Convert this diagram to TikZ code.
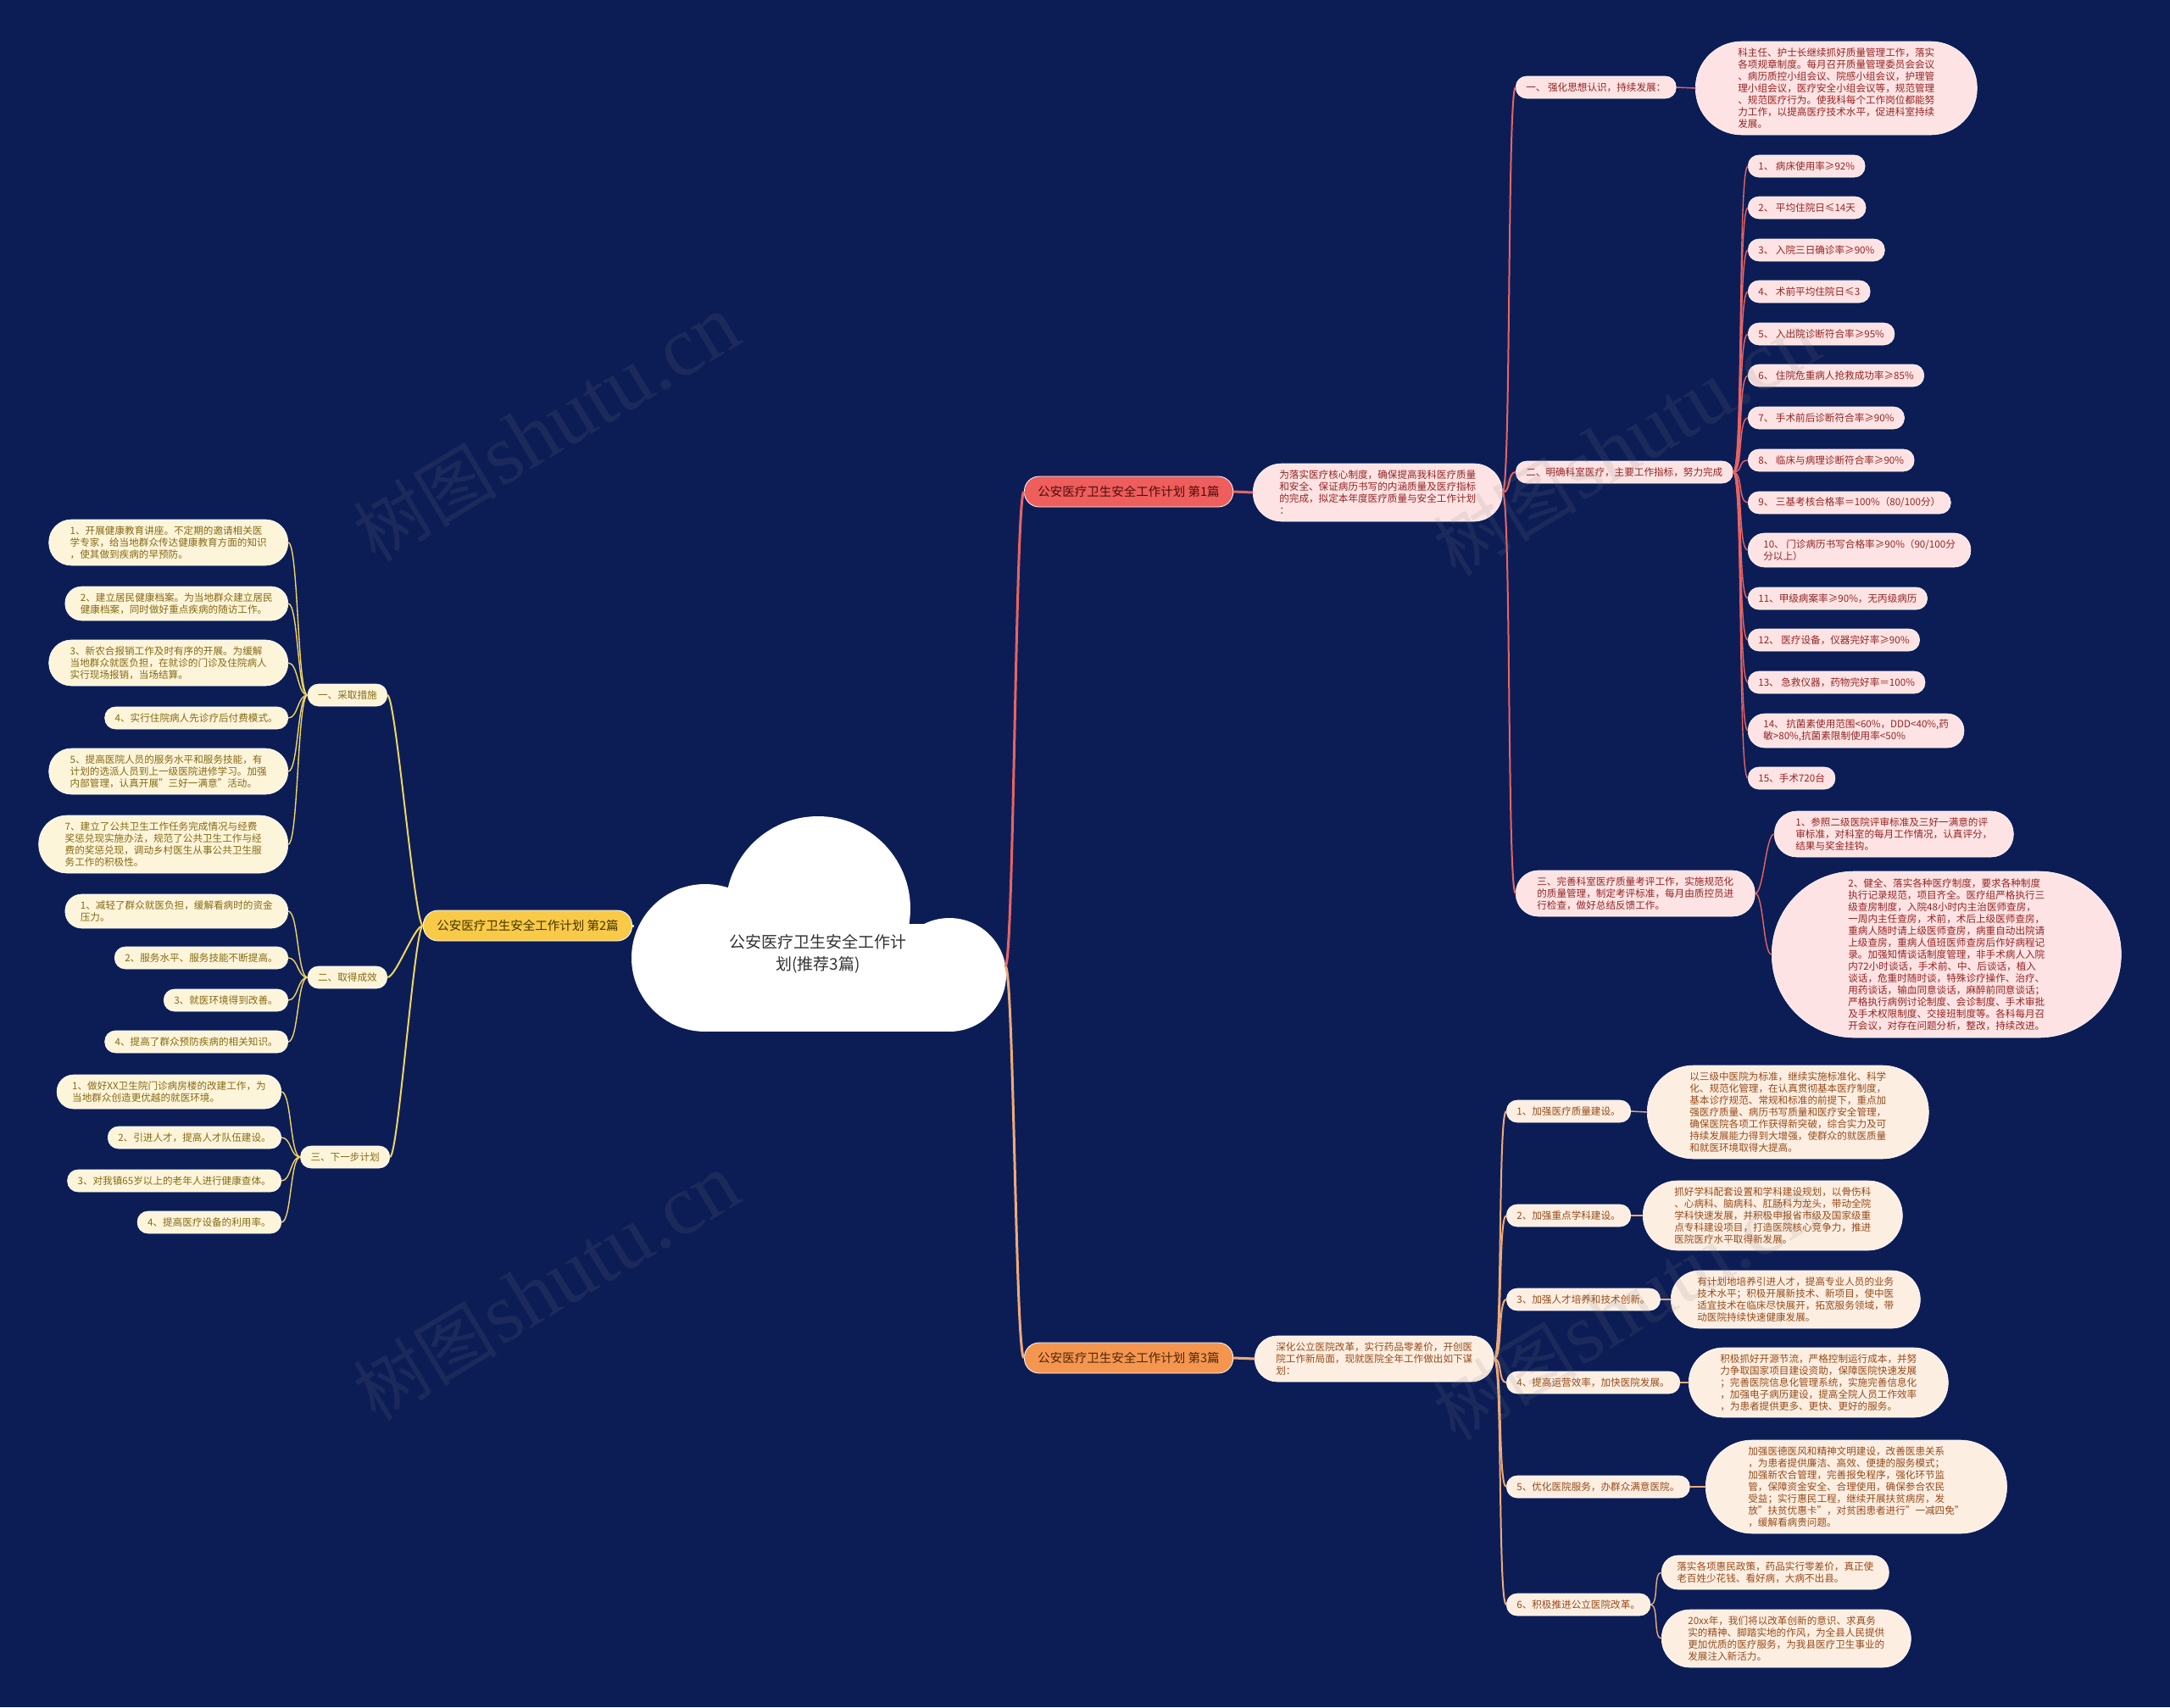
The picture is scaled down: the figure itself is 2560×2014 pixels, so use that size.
\documentclass[tikz,border=0pt]{standalone}
\usepackage{fontspec}
\setmainfont{Noto Sans CJK SC}
\newfontfamily\latinserif{Liberation Serif}
\definecolor{navybg}{RGB}{12,29,86}
\definecolor{rootink}{RGB}{51,51,51}
\definecolor{redhead}{RGB}{238,94,92}
\definecolor{redheadink}{RGB}{80,12,12}
\definecolor{redfill}{RGB}{253,227,227}
\definecolor{redink}{RGB}{150,35,35}
\definecolor{redline}{RGB}{232,100,98}
\definecolor{orangehead}{RGB}{245,150,80}
\definecolor{orangeheadink}{RGB}{80,38,5}
\definecolor{orangefill}{RGB}{253,238,226}
\definecolor{orangeink}{RGB}{150,75,25}
\definecolor{orangeline}{RGB}{238,170,120}
\definecolor{yellowhead}{RGB}{248,202,72}
\definecolor{yellowheadink}{RGB}{70,52,0}
\definecolor{yellowfill}{RGB}{253,245,218}
\definecolor{yellowink}{RGB}{135,105,20}
\definecolor{yellowline}{RGB}{242,212,100}

\begin{document}
\begin{tikzpicture}[x=1pt,y=-1pt,
  pill/.style={rectangle, draw=white, line width=0.6pt, inner ysep=0pt, align=left, font=\fontsize{11.6}{14}\selectfont},
  l1/.style={minimum height=26pt, rounded corners=12.5pt, inner xsep=12pt},
  l2/.style={minimum height=40pt, rounded corners=19.5pt, inner xsep=18pt},
  l3/.style={minimum height=54pt, rounded corners=26.5pt, inner xsep=25pt},
  l4/.style={minimum height=68pt, rounded corners=33.5pt, inner xsep=31pt},
  l5/.style={minimum height=82pt, rounded corners=40.5pt, inner xsep=37pt},
  l7/.style={minimum height=110pt, rounded corners=54.5pt, inner xsep=50pt},
  l13/.style={minimum height=196pt, rounded corners=97.5pt, inner xsep=90pt},
  redbox/.style={pill, fill=redfill, text=redink},
  orangebox/.style={pill, fill=orangefill, text=orangeink},
  yellowbox/.style={pill, fill=yellowfill, text=yellowink},
  headbox/.style={rectangle, draw=white, line width=0.8pt, minimum height=36pt, rounded corners=17.5pt, inner xsep=16pt, inner ysep=0pt, font=\fontsize{14.5}{16}\selectfont},
  redwire/.style={draw=redline, line width=#1}, redwire/.default=1.4pt,
  orangewire/.style={draw=orangeline, line width=#1}, orangewire/.default=1.4pt,
  yellowwire/.style={draw=yellowline, line width=#1}, yellowwire/.default=1.4pt,
  wmark/.style={text=gray, opacity=0.14, rotate=31}]

\fill[navybg] (0,0) rectangle (2560,2014);
\useasboundingbox (0,0) rectangle (2560,2014);

\fill[white] (965,1072) circle[radius=109pt];
\fill[white] (832,1130) circle[radius=87pt];
\fill[white] (1120,1150) circle[radius=67pt];
\fill[white] (832,1090) rectangle (1120,1217);
\node[align=center, text=rootink, font=\fontsize{19}{26}\selectfont] (root) at (965,1125) {公安医疗卫生安全工作计\\划(推荐3篇)};
\coordinate (rootR) at (1186,1140);
\coordinate (rootL) at (748,1092);

\node[headbox, fill=redhead, text=redheadink, anchor=west] (p1) at (1208,580) {公安医疗卫生安全工作计划 第1篇};
\node[headbox, fill=yellowhead, text=yellowheadink, anchor=east] (p2) at (746,1092) {公安医疗卫生安全工作计划 第2篇};
\node[headbox, fill=orangehead, text=orangeheadink, anchor=west] (p3) at (1208,1602) {公安医疗卫生安全工作计划 第3篇};

\node[redbox, l4, anchor=west] (p1i) at (1478,581) {为落实医疗核心制度，确保提高我科医疗质量\\和安全、保证病历书写的内涵质量及医疗指标\\的完成，拟定本年度医疗质量与安全工作计划\\：};
\node[redbox, l1, anchor=west] (p1a) at (1788,103) {一、 强化思想认识，持续发展：};
\node[redbox, l7, anchor=west] (p1a1) at (2000,104) {科主任、护士长继续抓好质量管理工作，落实\\各项规章制度。每月召开质量管理委员会会议\\、病历质控小组会议、院感小组会议，护理管\\理小组会议，医疗安全小组会议等，规范管理\\、规范医疗行为。使我科每个工作岗位都能努\\力工作，以提高医疗技术水平，促进科室持续\\发展。};
\node[redbox, l1, anchor=west] (p1b) at (1788,557) {二、明确科室医疗，主要工作指标，努力完成};
\node[redbox, l1, anchor=west] (p1b1) at (2062,196) {1、 病床使用率≥92\%};
\node[redbox, l1, anchor=west] (p1b2) at (2062,245) {2、 平均住院日≤14天};
\node[redbox, l1, anchor=west] (p1b3) at (2062,295) {3、 入院三日确诊率≥90\%};
\node[redbox, l1, anchor=west] (p1b4) at (2062,344) {4、 术前平均住院日≤3};
\node[redbox, l1, anchor=west] (p1b5) at (2062,394) {5、 入出院诊断符合率≥95\%};
\node[redbox, l1, anchor=west] (p1b6) at (2062,443) {6、 住院危重病人抢救成功率≥85\%};
\node[redbox, l1, anchor=west] (p1b7) at (2062,493) {7、 手术前后诊断符合率≥90\%};
\node[redbox, l1, anchor=west] (p1b8) at (2062,543) {8、 临床与病理诊断符合率≥90\%};
\node[redbox, l1, anchor=west] (p1b9) at (2062,593) {9、 三基考核合格率＝100\%（80/100分）};
\node[redbox, l2, anchor=west] (p1b10) at (2062,649) {10、 门诊病历书写合格率≥90\%（90/100分\\分以上）};
\node[redbox, l1, anchor=west] (p1b11) at (2062,706) {11、甲级病案率≥90\%，无丙级病历};
\node[redbox, l1, anchor=west] (p1b12) at (2062,755) {12、 医疗设备，仪器完好率≥90\%};
\node[redbox, l1, anchor=west] (p1b13) at (2062,805) {13、 急救仪器，药物完好率＝100\%};
\node[redbox, l2, anchor=west] (p1b14) at (2062,862) {14、 抗菌素使用范围<60\%，DDD<40\%,药\\敏>80\%,抗菌素限制使用率<50\%};
\node[redbox, l1, anchor=west] (p1b15) at (2062,918) {15、手术720台};
\node[redbox, l3, anchor=west] (p1c) at (1788,1054) {三、完善科室医疗质量考评工作，实施规范化\\的质量管理，制定考评标准，每月由质控员进\\行检查，做好总结反馈工作。};
\node[redbox, l3, anchor=west] (p1c1) at (2093,984) {1、参照二级医院评审标准及三好一满意的评\\审标准，对科室的每月工作情况，认真评分，\\结果与奖金挂钩。};
\node[redbox, l13, anchor=west] (p1c2) at (2090,1126) {2、健全、落实各种医疗制度，要求各种制度\\执行记录规范，项目齐全。医疗组严格执行三\\级查房制度，入院48小时内主治医师查房，\\一周内主任查房，术前，术后上级医师查房，\\重病人随时请上级医师查房，病重自动出院请\\上级查房，重病人值班医师查房后作好病程记\\录。加强知情谈话制度管理，非手术病人入院\\内72小时谈话，手术前、中、后谈话，植入\\谈话，危重时随时谈，特殊诊疗操作、治疗、\\用药谈话，输血同意谈话，麻醉前同意谈话；\\严格执行病例讨论制度、会诊制度、手术审批\\及手术权限制度、交接班制度等。各科每月召\\开会议，对存在问题分析，整改，持续改进。};

\node[yellowbox, l1, anchor=east] (p2a) at (457,820) {一、采取措施};
\node[yellowbox, l3, anchor=east] (p2a1) at (340,640) {1、开展健康教育讲座。不定期的邀请相关医\\学专家，给当地群众传达健康教育方面的知识\\，使其做到疾病的早预防。};
\node[yellowbox, l2, anchor=east] (p2a2) at (340,712) {2、建立居民健康档案。为当地群众建立居民\\健康档案，同时做好重点疾病的随访工作。};
\node[yellowbox, l3, anchor=east] (p2a3) at (340,782) {3、新农合报销工作及时有序的开展。为缓解\\当地群众就医负担，在就诊的门诊及住院病人\\实行现场报销，当场结算。};
\node[yellowbox, l1, anchor=east] (p2a4) at (340,847) {4、实行住院病人先诊疗后付费模式。};
\node[yellowbox, l3, anchor=east] (p2a5) at (340,910) {5、提高医院人员的服务水平和服务技能，有\\计划的选派人员到上一级医院进修学习。加强\\内部管理，认真开展"三好一满意"活动。};
\node[yellowbox, l4, anchor=east] (p2a6) at (340,996) {7、建立了公共卫生工作任务完成情况与经费\\奖惩兑现实施办法，规范了公共卫生工作与经\\费的奖惩兑现，调动乡村医生从事公共卫生服\\务工作的积极性。};
\node[yellowbox, l1, anchor=east] (p2b) at (457,1153) {二、取得成效};
\node[yellowbox, l2, anchor=east] (p2b1) at (340,1075) {1、减轻了群众就医负担，缓解看病时的资金\\压力。};
\node[yellowbox, l1, anchor=east] (p2b2) at (340,1130) {2、服务水平、服务技能不断提高。};
\node[yellowbox, l1, anchor=east] (p2b3) at (340,1180) {3、就医环境得到改善。};
\node[yellowbox, l1, anchor=east] (p2b4) at (340,1229) {4、提高了群众预防疾病的相关知识。};
\node[yellowbox, l1, anchor=east] (p2c) at (460,1365) {三、下一步计划};
\node[yellowbox, l2, anchor=east] (p2c1) at (332,1288) {1、做好XX卫生院门诊病房楼的改建工作，为\\当地群众创造更优越的就医环境。};
\node[yellowbox, l1, anchor=east] (p2c2) at (332,1342) {2、引进人才，提高人才队伍建设。};
\node[yellowbox, l1, anchor=east] (p2c3) at (332,1393) {3、对我镇65岁以上的老年人进行健康查体。};
\node[yellowbox, l1, anchor=east] (p2c4) at (332,1442) {4、提高医疗设备的利用率。};

\node[orangebox, l3, anchor=west] (p3i) at (1480,1603) {深化公立医院改革，实行药品零差价，开创医\\院工作新局面，现就医院全年工作做出如下谋\\划：};
\node[orangebox, l1, anchor=west] (p3a) at (1777,1311) {1、加强医疗质量建设。};
\node[orangebox, l7, anchor=west] (p3a1) at (1943,1312) {以三级中医院为标准，继续实施标准化、科学\\化、规范化管理，在认真贯彻基本医疗制度，\\基本诊疗规范、常规和标准的前提下，重点加\\强医疗质量、病历书写质量和医疗安全管理，\\确保医院各项工作获得新突破，综合实力及可\\持续发展能力得到大增强，使群众的就医质量\\和就医环境取得大提高。};
\node[orangebox, l1, anchor=west] (p3b) at (1777,1434) {2、加强重点学科建设。};
\node[orangebox, l5, anchor=west] (p3b1) at (1938,1434) {抓好学科配套设置和学科建设规划，以骨伤科\\、心病科、脑病科、肛肠科为龙头，带动全院\\学科快速发展，并积极申报省市级及国家级重\\点专科建设项目，打造医院核心竞争力，推进\\医院医疗水平取得新发展。};
\node[orangebox, l1, anchor=west] (p3c) at (1777,1533) {3、加强人才培养和技术创新。};
\node[orangebox, l4, anchor=west] (p3c1) at (1971,1533) {有计划地培养引进人才，提高专业人员的业务\\技术水平；积极开展新技术、新项目，使中医\\适宜技术在临床尽快展开，拓宽服务领域，带\\动医院持续快速健康发展。};
\node[orangebox, l1, anchor=west] (p3d) at (1777,1631) {4、提高运营效率，加快医院发展。};
\node[orangebox, l5, anchor=west] (p3d1) at (1992,1631) {积极抓好开源节流，严格控制运行成本，并努\\力争取国家项目建设资助，保障医院快速发展\\；完善医院信息化管理系统，实施完善信息化\\，加强电子病历建设，提高全院人员工作效率\\，为患者提供更多、更快、更好的服务。};
\node[orangebox, l1, anchor=west] (p3e) at (1777,1754) {5、优化医院服务，办群众满意医院。};
\node[orangebox, l7, anchor=west] (p3e1) at (2012,1754) {加强医德医风和精神文明建设，改善医患关系\\，为患者提供廉洁、高效、便捷的服务模式；\\加强新农合管理，完善报免程序，强化环节监\\管，保障资金安全、合理使用，确保参合农民\\受益；实行惠民工程，继续开展扶贫病房，发\\放"扶贫优惠卡"，对贫困患者进行"一减四免"\\，缓解看病贵问题。};
\node[orangebox, l1, anchor=west] (p3f) at (1777,1893) {6、积极推进公立医院改革。};
\node[orangebox, l2, anchor=west] (p3f1) at (1960,1855) {落实各项惠民政策，药品实行零差价，真正使\\老百姓少花钱、看好病，大病不出县。};
\node[orangebox, l4, anchor=west] (p3f2) at (1960,1933) {20xx年，我们将以改革创新的意识、求真务\\实的精神、脚踏实地的作风，为全县人民提供\\更加优质的医疗服务，为我县医疗卫生事业的\\发展注入新活力。};

\draw[redwire=3pt] (rootR) .. controls +(10,0) and +(-10,0) .. (p1.west);
\draw[orangewire=3pt] (rootR) .. controls +(10,0) and +(-10,0) .. (p3.west);
\draw[yellowwire=3pt] (rootL) -- (p2.east);

\draw[redwire=3pt] (p1.east) -- (p1i.west);
\draw[redwire=2pt] (p1i.east) .. controls +(10,0) and +(-10,0) .. (p1a.west);
\draw[redwire=2pt] (p1i.east) .. controls +(10,0) and +(-10,0) .. (p1b.west);
\draw[redwire=2pt] (p1i.east) .. controls +(10,0) and +(-10,0) .. (p1c.west);
\draw[redwire] (p1a.east) -- (p1a1.west);
\draw[redwire] (p1b.east) .. controls +(12,0) and +(-12,0) .. (p1b1.west);
\draw[redwire] (p1b.east) .. controls +(12,0) and +(-12,0) .. (p1b2.west);
\draw[redwire] (p1b.east) .. controls +(12,0) and +(-12,0) .. (p1b3.west);
\draw[redwire] (p1b.east) .. controls +(12,0) and +(-12,0) .. (p1b4.west);
\draw[redwire] (p1b.east) .. controls +(12,0) and +(-12,0) .. (p1b5.west);
\draw[redwire] (p1b.east) .. controls +(12,0) and +(-12,0) .. (p1b6.west);
\draw[redwire] (p1b.east) .. controls +(12,0) and +(-12,0) .. (p1b7.west);
\draw[redwire] (p1b.east) .. controls +(12,0) and +(-12,0) .. (p1b8.west);
\draw[redwire] (p1b.east) .. controls +(12,0) and +(-12,0) .. (p1b9.west);
\draw[redwire] (p1b.east) .. controls +(12,0) and +(-12,0) .. (p1b10.west);
\draw[redwire] (p1b.east) .. controls +(12,0) and +(-12,0) .. (p1b11.west);
\draw[redwire] (p1b.east) .. controls +(12,0) and +(-12,0) .. (p1b12.west);
\draw[redwire] (p1b.east) .. controls +(12,0) and +(-12,0) .. (p1b13.west);
\draw[redwire] (p1b.east) .. controls +(12,0) and +(-12,0) .. (p1b14.west);
\draw[redwire] (p1b.east) .. controls +(12,0) and +(-12,0) .. (p1b15.west);
\draw[redwire] (p1c.east) .. controls +(10,0) and +(-10,0) .. (p1c1.west);
\draw[redwire] (p1c.east) .. controls +(10,0) and +(-10,0) .. (p1c2.west);

\draw[yellowwire=2pt] (p2.west) .. controls +(-10,0) and +(10,0) .. (p2a.east);
\draw[yellowwire=2pt] (p2.west) .. controls +(-10,0) and +(10,0) .. (p2b.east);
\draw[yellowwire=2pt] (p2.west) .. controls +(-10,0) and +(10,0) .. (p2c.east);
\draw[yellowwire] (p2a.west) .. controls +(-12,0) and +(12,0) .. (p2a1.east);
\draw[yellowwire] (p2a.west) .. controls +(-12,0) and +(12,0) .. (p2a2.east);
\draw[yellowwire] (p2a.west) .. controls +(-12,0) and +(12,0) .. (p2a3.east);
\draw[yellowwire] (p2a.west) .. controls +(-12,0) and +(12,0) .. (p2a4.east);
\draw[yellowwire] (p2a.west) .. controls +(-12,0) and +(12,0) .. (p2a5.east);
\draw[yellowwire] (p2a.west) .. controls +(-12,0) and +(12,0) .. (p2a6.east);
\draw[yellowwire] (p2b.west) .. controls +(-12,0) and +(12,0) .. (p2b1.east);
\draw[yellowwire] (p2b.west) .. controls +(-12,0) and +(12,0) .. (p2b2.east);
\draw[yellowwire] (p2b.west) .. controls +(-12,0) and +(12,0) .. (p2b3.east);
\draw[yellowwire] (p2b.west) .. controls +(-12,0) and +(12,0) .. (p2b4.east);
\draw[yellowwire] (p2c.west) .. controls +(-12,0) and +(12,0) .. (p2c1.east);
\draw[yellowwire] (p2c.west) .. controls +(-12,0) and +(12,0) .. (p2c2.east);
\draw[yellowwire] (p2c.west) .. controls +(-12,0) and +(12,0) .. (p2c3.east);
\draw[yellowwire] (p2c.west) .. controls +(-12,0) and +(12,0) .. (p2c4.east);

\draw[orangewire=3pt] (p3.east) -- (p3i.west);
\draw[orangewire=2pt] (p3i.east) .. controls +(10,0) and +(-10,0) .. (p3a.west);
\draw[orangewire=2pt] (p3i.east) .. controls +(10,0) and +(-10,0) .. (p3b.west);
\draw[orangewire=2pt] (p3i.east) .. controls +(10,0) and +(-10,0) .. (p3c.west);
\draw[orangewire=2pt] (p3i.east) .. controls +(10,0) and +(-10,0) .. (p3d.west);
\draw[orangewire=2pt] (p3i.east) .. controls +(10,0) and +(-10,0) .. (p3e.west);
\draw[orangewire=2pt] (p3i.east) .. controls +(10,0) and +(-10,0) .. (p3f.west);
\draw[orangewire] (p3a.east) -- (p3a1.west);
\draw[orangewire] (p3b.east) -- (p3b1.west);
\draw[orangewire] (p3c.east) -- (p3c1.west);
\draw[orangewire] (p3d.east) -- (p3d1.west);
\draw[orangewire] (p3e.east) -- (p3e1.west);
\draw[orangewire] (p3f.east) .. controls +(10,0) and +(-10,0) .. (p3f1.west);
\draw[orangewire] (p3f.east) .. controls +(10,0) and +(-10,0) .. (p3f2.west);

\node[wmark] (wm1) at (645,506) {{\fontsize{85}{85}\selectfont 树图} {\latinserif\fontsize{100}{100}\selectfont shutu.cn}};
\node[wmark] (wm2) at (645,1519) {{\fontsize{85}{85}\selectfont 树图} {\latinserif\fontsize{100}{100}\selectfont shutu.cn}};
\node[wmark] (wm3) at (1919,523) {{\fontsize{85}{85}\selectfont 树图} {\latinserif\fontsize{100}{100}\selectfont shutu.cn}};
\node[wmark] (wm4) at (1919,1543) {{\fontsize{85}{85}\selectfont 树图} {\latinserif\fontsize{100}{100}\selectfont shutu.cn}};
\end{tikzpicture}
\end{document}
